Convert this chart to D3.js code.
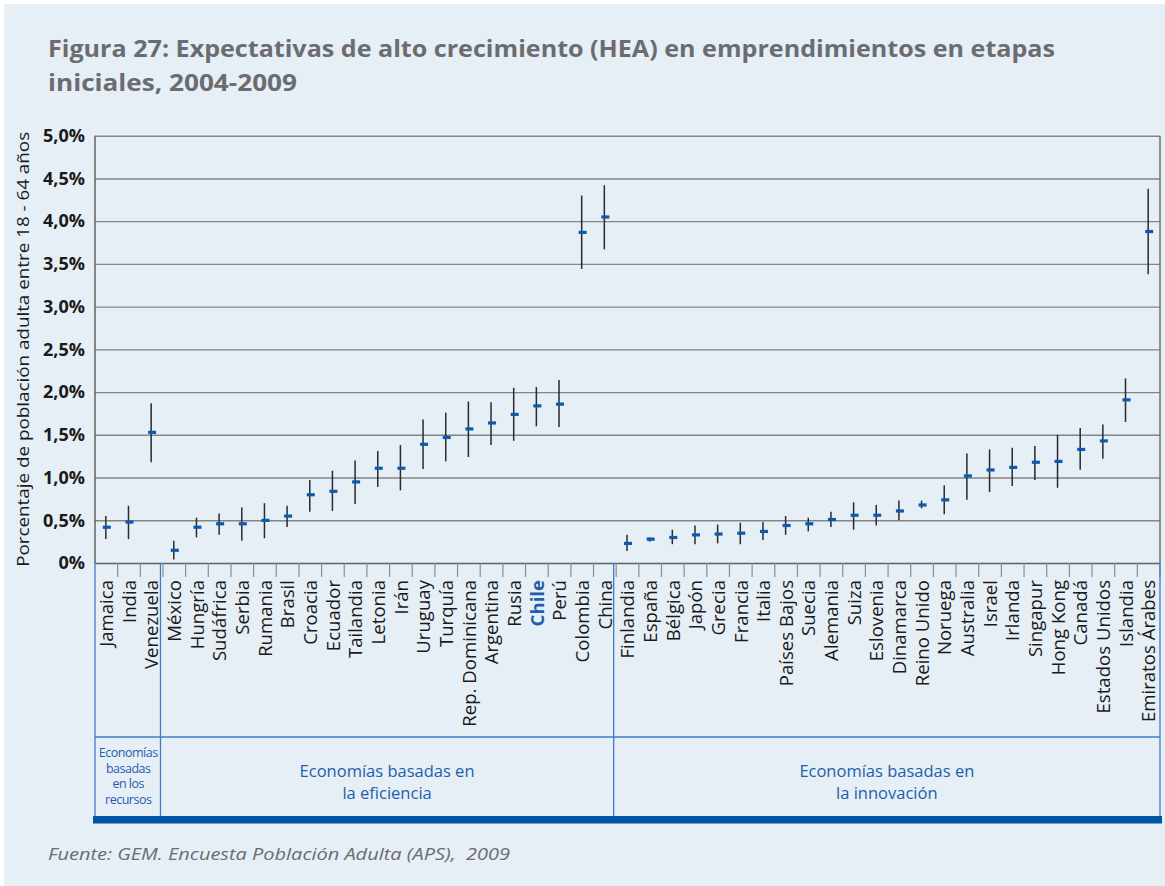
<!DOCTYPE html>
<html>
<head>
<meta charset="utf-8">
<script src="https://cdn.jsdelivr.net/npm/d3@7"></script>
<style>
  html, body { margin: 0; padding: 0; background: #ffffff; }
  svg { display: block; }
  text { font-family: "Open Sans", "Noto Sans", sans-serif; }
</style>
</head>
<body>
<svg id="chart" width="1165" height="886"></svg>
<script>
// ---------- DATA ----------
const categories = [
  "Jamaica","India","Venezuela",
  "México","Hungría","Sudáfrica","Serbia","Rumania","Brasil","Croacia","Ecuador","Tailandia","Letonia",
  "Irán","Uruguay","Turquía","Rep. Dominicana","Argentina","Rusia","Chile","Perú","Colombia","China",
  "Finlandia","España","Bélgica","Japón","Grecia","Francia","Italia","Países Bajos","Suecia","Alemania",
  "Suiza","Eslovenia","Dinamarca","Reino Unido","Noruega","Australia","Israel","Irlanda","Singapur",
  "Hong Kong","Canadá","Estados Unidos","Islandia","Emiratos Árabes"
];
// Estimated HEA rate (% of adult population 18-64)
const heaValues = [
  0.42,0.48,1.53,
  0.15,0.42,0.46,0.46,0.50,0.55,0.80,0.84,0.95,1.11,
  1.11,1.39,1.47,1.57,1.64,1.74,1.84,1.86,3.87,4.05,
  0.23,0.28,0.30,0.33,0.34,0.35,0.37,0.44,0.46,0.51,
  0.56,0.56,0.61,0.68,0.74,1.02,1.09,1.12,1.18,
  1.19,1.33,1.43,1.91,3.88
];
// Lower confidence bound (%)
const lowerValues = [
  0.28,0.28,1.18,
  0.04,0.30,0.33,0.26,0.29,0.42,0.60,0.61,0.69,0.89,
  0.85,1.10,1.19,1.24,1.38,1.43,1.60,1.59,3.44,3.67,
  0.14,0.25,0.22,0.22,0.23,0.22,0.27,0.33,0.37,0.42,
  0.39,0.44,0.50,0.64,0.57,0.74,0.83,0.90,0.97,
  0.88,1.09,1.22,1.65,3.38
];
// Upper confidence bound (%)
const upperValues = [
  0.55,0.67,1.87,
  0.26,0.53,0.58,0.65,0.70,0.67,0.97,1.08,1.20,1.31,
  1.38,1.68,1.76,1.89,1.88,2.05,2.06,2.14,4.30,4.42,
  0.33,0.30,0.39,0.44,0.45,0.47,0.48,0.55,0.53,0.60,
  0.71,0.68,0.73,0.73,0.91,1.28,1.33,1.35,1.37,
  1.50,1.58,1.62,2.16,4.38
];
const groupNames = [
  ["Economías","basadas","en los","recursos"],
  ["Economías basadas en","la eficiencia"],
  ["Economías basadas en","la innovación"]
];
const groupSizes = [3, 20, 24];
const highlighted = ["Chile"];
const yTickValues = [0,0.5,1.0,1.5,2.0,2.5,3.0,3.5,4.0,4.5,5.0];
const yTickLabels = ["0%","0,5%","1,0%","1,5%","2,0%","2,5%","3,0%","3,5%","4,0%","4,5%","5,0%"];
const titleLines = [
  "Figura 27: Expectativas de alto crecimiento (HEA) en emprendimientos en etapas",
  "iniciales, 2004-2009"
];
const yTitle = "Porcentaje de población adulta entre 18 - 64 años";
const sourceText = "Fuente: GEM. Encuesta Población Adulta (APS),  2009";

// ---------- LAYOUT ----------
const svg = d3.select("#chart");
const W = 1165, H = 886;
const plot = { left: 95, right: 1160, top: 135.7, bottom: 563 };
const BLUE_LINE = "#3f7cc4", BLUE_DARK = "#0055a5", BLUE_TEXT = "#1d5fab";

// panel background
svg.append("rect").attr("x", 4).attr("y", 4).attr("width", W - 4).attr("height", H - 4)
  .attr("fill", "#e6eef6");

const x = d3.scaleBand().domain(categories).range([plot.left, plot.right]).padding(0);
const y = d3.scaleLinear().domain([0, 5]).range([plot.bottom, plot.top]);
const bw = x.bandwidth();

// title
titleLines.forEach((t, i) => {
  svg.append("text")
    .attr("x", 48).attr("y", 57 + i * 34)
    .attr("font-size", 23).attr("font-weight", 700).attr("fill", "#6b6c6f")
    .attr("textLength", i === 0 ? 1007 : 249).attr("lengthAdjust", "spacingAndGlyphs")
    .text(t);
});

// gridlines
const yAxis = d3.axisLeft(y).tickValues(yTickValues)
  .tickFormat((d, i) => yTickLabels[i]).tickSize(-(plot.right - plot.left)).tickPadding(10);
const gy = svg.append("g").attr("transform", `translate(${plot.left},0)`).call(yAxis);
gy.select(".domain").remove();
gy.selectAll(".tick line").attr("stroke", "#858585").attr("stroke-width", 1.4);
gy.selectAll(".tick text")
  .attr("font-size", 18).attr("font-weight", 700).attr("fill", "#1a1a1a")
  .attr("font-family", "'Open Sans', sans-serif");
gy.selectAll(".tick").filter(d => d === 0).select("line").attr("stroke", "#606060");

// plot borders
svg.append("line").attr("x1", plot.left).attr("x2", plot.left)
  .attr("y1", plot.top).attr("y2", plot.bottom).attr("stroke", "#5a5a5a").attr("stroke-width", 1.4);
svg.append("line").attr("x1", plot.right).attr("x2", plot.right)
  .attr("y1", plot.top).attr("y2", plot.bottom).attr("stroke", "#6a6a6a").attr("stroke-width", 1.4);

// y title
svg.append("text")
  .attr("transform", `translate(29, ${(plot.top + plot.bottom) / 2}) rotate(-90)`)
  .attr("text-anchor", "middle").attr("font-size", 17).attr("fill", "#1a1a1a")
  .attr("textLength", 435).attr("lengthAdjust", "spacingAndGlyphs")
  .text(yTitle);

// category ticks
const xAxis = d3.axisBottom(x).tickSize(14).tickFormat("");
const gx = svg.append("g").attr("transform", `translate(0,${plot.bottom})`).call(xAxis);
gx.select(".domain").remove();
gx.selectAll(".tick line").attr("stroke", "#8c8c8c").attr("stroke-width", 1.2)
  .attr("transform", `translate(${bw / 2},0)`);

// category labels
svg.append("g").selectAll("text").data(categories).join("text")
  .attr("transform", d => `translate(${x(d) + bw / 2},580) rotate(-90)`)
  .attr("text-anchor", "end").attr("dy", "0.36em")
  .attr("font-size", 18.6)
  .attr("font-weight", d => highlighted.includes(d) ? 700 : 400)
  .attr("fill", d => highlighted.includes(d) ? BLUE_TEXT : "#1a1a1a")
  .text(d => d);

// error bars
svg.append("g").selectAll("line").data(categories).join("line")
  .attr("x1", d => x(d) + bw / 2 - 0.5).attr("x2", d => x(d) + bw / 2 - 0.5)
  .attr("y1", (d, i) => y(upperValues[i])).attr("y2", (d, i) => y(lowerValues[i]))
  .attr("stroke", "#2a2a2a").attr("stroke-width", 1.5);

// markers
svg.append("g").selectAll("rect").data(categories).join("rect")
  .attr("x", d => x(d) + bw / 2 - 3.5).attr("width", 8)
  .attr("y", (d, i) => y(heaValues[i]) - 1.5).attr("height", 3.2)
  .attr("fill", "#0a5bb0");

// group structure
const lowTop = plot.bottom, sepY = 737, barY = 816;
let start = 0;
const boundaries = [];
groupSizes.forEach((n, gi) => {
  const x0 = x(categories[start]);
  const last = categories[start + n - 1];
  const x1 = x(last) + bw;
  boundaries.push([x0, x1]);
  start += n;
});
// verticals
const vx = [plot.left];
boundaries.slice(1).forEach(b => vx.push(b[0] - 2.5));
vx.push(plot.right);
svg.append("g").selectAll("line").data(vx).join("line")
  .attr("x1", d => d).attr("x2", d => d).attr("y1", lowTop).attr("y2", barY)
  .attr("stroke", BLUE_LINE).attr("stroke-width", 1.3);
svg.append("line").attr("x1", plot.left).attr("x2", plot.right)
  .attr("y1", sepY).attr("y2", sepY).attr("stroke", BLUE_LINE).attr("stroke-width", 1.3);
svg.append("rect").attr("x", plot.left - 2).attr("width", plot.right - plot.left + 4)
  .attr("y", barY).attr("height", 7.5).attr("fill", BLUE_DARK);

// group labels
groupNames.forEach((lines, gi) => {
  const cx = (vx[gi] + vx[gi + 1]) / 2;
  const small = gi === 0;
  const fs = small ? 12.5 : 16.5;
  const lh = small ? 15.7 : 21.5;
  const y0 = small ? 757 : 777;
  lines.forEach((l, li) => {
    svg.append("text").attr("x", cx + (small ? 0.5 : 0)).attr("y", y0 + li * lh)
      .attr("text-anchor", "middle").attr("font-size", fs).attr("fill", BLUE_TEXT)
      .attr("letter-spacing", small ? -0.5 : 0)
      .text(l);
  });
});

// source
svg.append("text").attr("x", 48).attr("y", 860)
  .attr("font-size", 17).attr("font-style", "italic").attr("fill", "#6b6c6f")
  .style("white-space", "pre")
  .attr("textLength", 462).attr("lengthAdjust", "spacingAndGlyphs")
  .text(sourceText);
</script>
</body>
</html>
